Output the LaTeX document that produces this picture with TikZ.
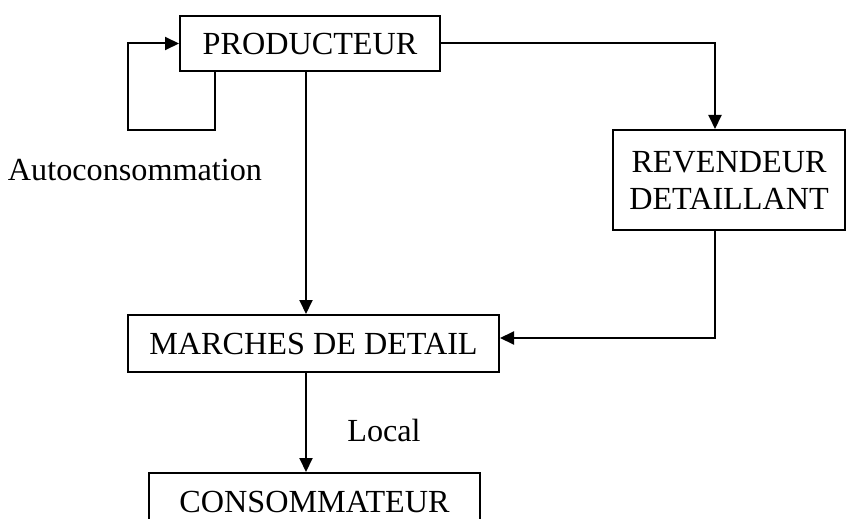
\documentclass[tikz,border=0pt]{standalone}
\usepackage{fontspec}
\setmainfont{Liberation Serif}
\usepackage{tikz}
\usetikzlibrary{arrows.meta,positioning}
\tikzset{
  >={Triangle[length=7pt,width=6.5pt]},
  box/.style={rectangle, draw=black, line width=1pt, align=center,
              inner sep=0pt, fill=white, font=\fontsize{16.1}{18.5}\selectfont},
  lbl/.style={inner sep=0pt, font=\fontsize{16.1}{18.5}\selectfont},
  flow/.style={->, draw=black, line width=1pt},
}
\begin{document}
\begin{tikzpicture}[x=0.5pt, y=-0.5pt]
  \useasboundingbox (0,0) rectangle (846,519);
  % guide points for the connectors
  \coordinate (axis) at (306,0);
  \coordinate (raxis) at (715,0);
  \coordinate (mid) at (0,338);
  \coordinate (loopc) at (128,130);

  \node[box, minimum width=130pt, minimum height=27.5pt] (prod) at (310,43.5) {PRODUCTEUR};
  \node[box, minimum width=116pt, minimum height=50pt] (rev) at (729,180) {REVENDEUR\\DETAILLANT};
  \node[box, minimum width=185.5pt, minimum height=28.5pt] (marche) at (313.5,343.5) {MARCHES DE DETAIL};
  \node[box, minimum width=165.5pt, minimum height=28.5pt] (conso) at (314.5,501.5) {CONSOMMATEUR};
  \node[lbl] (auto) at (135,170) {Autoconsommation};
  \node[lbl] (local) at (384,430) {Local};

  \draw[flow] ([xshift=18pt]prod.south west) |- (loopc) |- (prod.west);
  \draw[flow] (prod.east) -| (rev.north -| raxis);
  \draw[flow] (prod.south -| axis) -- (marche.north -| axis);
  \draw[flow] (rev.south -| raxis) |- (marche.east |- mid);
  \draw[flow] (marche.south -| axis) -- (conso.north -| axis);
\end{tikzpicture}
\end{document}
